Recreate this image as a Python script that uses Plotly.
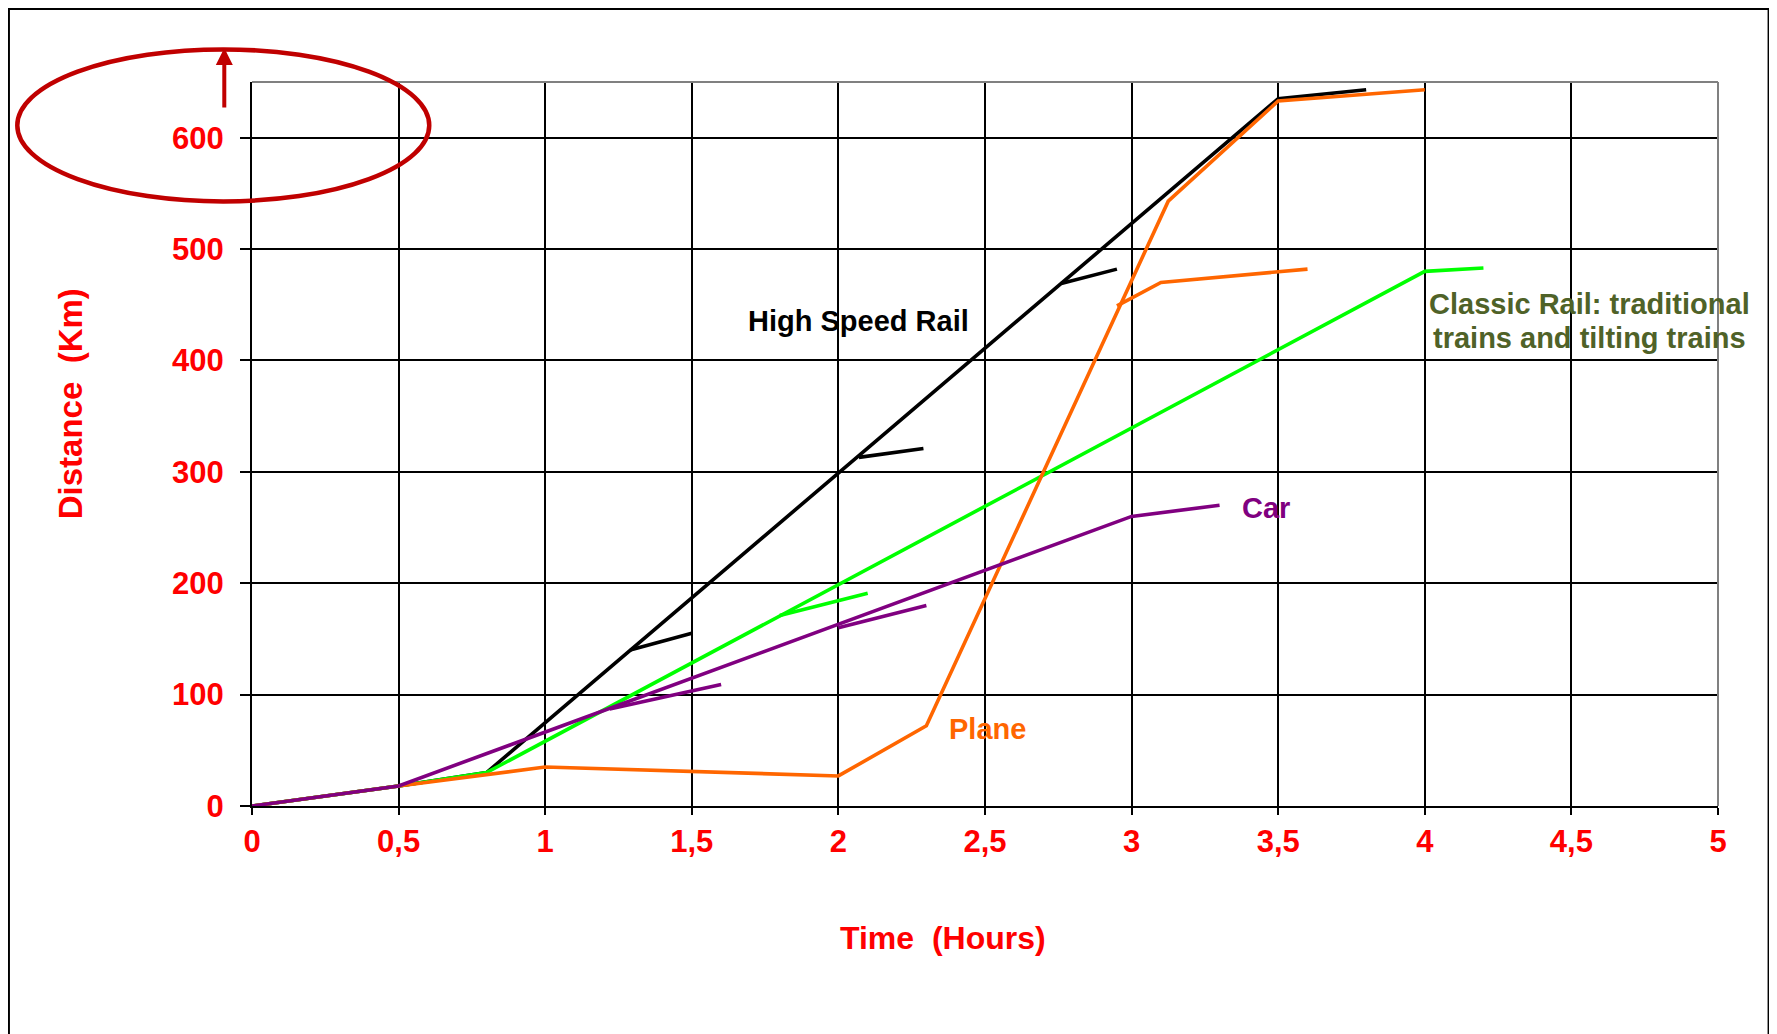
import plotly.graph_objects as go

# ---------------- data ----------------
x_tick_vals = [0, 0.5, 1, 1.5, 2, 2.5, 3, 3.5, 4, 4.5, 5]
x_tick_labels = ["0", "0,5", "1", "1,5", "2", "2,5", "3", "3,5", "4", "4,5", "5"]
y_tick_vals = [0, 100, 200, 300, 400, 500, 600]
y_tick_labels = ["0", "100", "200", "300", "400", "500", "600"]

# High Speed Rail (black)
hsr_time = [0, 0.5, 0.8, 3.5, 3.8]
hsr_dist = [0, 18, 30, 635, 643]
hsr_b1_time = [1.29, 1.5]
hsr_b1_dist = [140, 155]
hsr_b2_time = [2.07, 2.29]
hsr_b2_dist = [313, 321]
hsr_b3_time = [2.76, 2.95]
hsr_b3_dist = [469, 482]

# Classic Rail (green)
classic_time = [0, 0.5, 0.8, 4.0, 4.2]
classic_dist = [0, 18, 30, 480, 483]
classic_b1_time = [1.8, 2.1]
classic_b1_dist = [171, 191]

# Plane (orange)
plane_time = [0, 0.5, 1.0, 2.0, 2.3, 3.125, 3.5, 4.0]
plane_dist = [0, 18, 35, 27, 72, 543, 633, 643]
plane_b1_time = [2.95, 3.1, 3.6]
plane_b1_dist = [449, 470, 482]

# Car (purple)
car_time = [0, 0.5, 3.0, 3.3]
car_dist = [0, 18, 260, 270]
car_b1_time = [1.22, 1.6]
car_b1_dist = [87, 109]
car_b2_time = [2.0, 2.3]
car_b2_dist = [160, 180]

# ---------------- styles ----------------
BLACK = "#000000"
GREEN = "#00FF00"
ORANGE = "#FF6600"
PURPLE = "#800080"
OLIVE = "#4F6228"
RED = "#FF0000"
DARKRED = "#C00000"
FONT = "Liberation Sans, Arial, sans-serif"
LW = 3.6

fig = go.Figure()

def add_line(t, d, color):
    fig.add_trace(go.Scatter(x=t, y=d, mode="lines",
                             line=dict(color=color, width=LW),
                             showlegend=False, hoverinfo="skip"))

add_line(hsr_time, hsr_dist, BLACK)
add_line(hsr_b1_time, hsr_b1_dist, BLACK)
add_line(hsr_b2_time, hsr_b2_dist, BLACK)
add_line(hsr_b3_time, hsr_b3_dist, BLACK)
add_line(classic_time, classic_dist, GREEN)
add_line(classic_b1_time, classic_b1_dist, GREEN)
add_line(plane_time, plane_dist, ORANGE)
add_line(plane_b1_time, plane_b1_dist, ORANGE)
add_line(car_time, car_dist, PURPLE)
add_line(car_b1_time, car_b1_dist, PURPLE)
add_line(car_b2_time, car_b2_dist, PURPLE)

tickfont = dict(family=FONT, size=31, color=RED, weight="bold")

fig.update_layout(
    width=1777, height=1034,
    margin=dict(l=244, r=67, t=74, b=236, pad=0),
    paper_bgcolor="white", plot_bgcolor="white",
    showlegend=False,
    xaxis=dict(range=[0, 5], tickmode="array", tickvals=x_tick_vals,
               ticktext=x_tick_labels, tickfont=tickfont,
               showgrid=True, gridcolor=BLACK, gridwidth=2,
               showline=True, linecolor=BLACK, linewidth=2,
               ticks="outside", ticklen=7, tickwidth=2, tickcolor=BLACK,
               ticklabelstandoff=0, zeroline=False),
    yaxis=dict(range=[0, 650], tickmode="array", tickvals=y_tick_vals,
               ticktext=y_tick_labels, tickfont=tickfont,
               showgrid=True, gridcolor=BLACK, gridwidth=2,
               showline=True, linecolor=BLACK, linewidth=2,
               ticks="outside", ticklen=10, tickwidth=2, tickcolor=BLACK,
               ticklabelstandoff=10, zeroline=True, zerolinecolor=BLACK,
               zerolinewidth=3),
)

# grey top and right plot borders
fig.add_shape(type="line", xref="paper", yref="paper", x0=0, x1=1, y0=1, y1=1,
              line=dict(color="#808080", width=2), layer="above")
fig.add_shape(type="line", xref="paper", yref="paper", x0=1, x1=1, y0=0, y1=1,
              line=dict(color="#808080", width=2), layer="above")

# outer frame
fig.add_shape(type="rect", xref="paper", yref="paper",
              x0=-0.1658, x1=1.0345, y0=-0.4, y1=1.1008,
              line=dict(color=BLACK, width=2), layer="below")

# red ellipse around the y-axis top
fig.add_shape(type="circle", xref="paper", yref="paper",
              x0=-0.1601, x1=0.1209, y0=0.8351, y1=1.0450,
              line=dict(color=DARKRED, width=4.5), layer="above")

annotations = [
    # arrow
    dict(x=-0.0189, y=1.0470, xref="paper", yref="paper", text="",
         showarrow=True, ax=0, ay=61, axref="pixel", ayref="pixel",
         arrowhead=2, arrowsize=0.85, arrowwidth=4, arrowcolor=DARKRED),
    # axis titles
    dict(x=0.4712, y=-0.1826, xref="paper", yref="paper",
         text="<b>Time\u00a0\u00a0(Hours)</b>", showarrow=False,
         font=dict(family=FONT, size=32, color=RED),
         xanchor="center", yanchor="middle"),
    dict(x=-0.1242, y=0.5562, xref="paper", yref="paper",
         text="<b>Distance\u00a0\u00a0(Km)</b>", showarrow=False,
         textangle=-90, font=dict(family=FONT, size=33, color=RED),
         xanchor="center", yanchor="middle"),
    # series labels
    dict(x=2.069, y=435, xref="x", yref="y", text="<b>High Speed Rail</b>",
         showarrow=False, font=dict(family=FONT, size=29, color=BLACK),
         xanchor="center", yanchor="middle"),
    dict(x=4.563, y=451, xref="x", yref="y", text="<b>Classic Rail: traditional</b>",
         showarrow=False, font=dict(family=FONT, size=29, color=OLIVE),
         xanchor="center", yanchor="middle"),
    dict(x=4.563, y=420, xref="x", yref="y", text="<b>trains and tilting trains</b>",
         showarrow=False, font=dict(family=FONT, size=29, color=OLIVE),
         xanchor="center", yanchor="middle"),
    dict(x=3.458, y=267.5, xref="x", yref="y", text="<b>Car</b>",
         showarrow=False, font=dict(family=FONT, size=29, color=PURPLE),
         xanchor="center", yanchor="middle"),
    dict(x=2.51, y=69.5, xref="x", yref="y", text="<b>Plane</b>",
         showarrow=False, font=dict(family=FONT, size=29, color=ORANGE),
         xanchor="center", yanchor="middle"),
]
fig.update_layout(annotations=annotations)

fig.write_html("out.html")
